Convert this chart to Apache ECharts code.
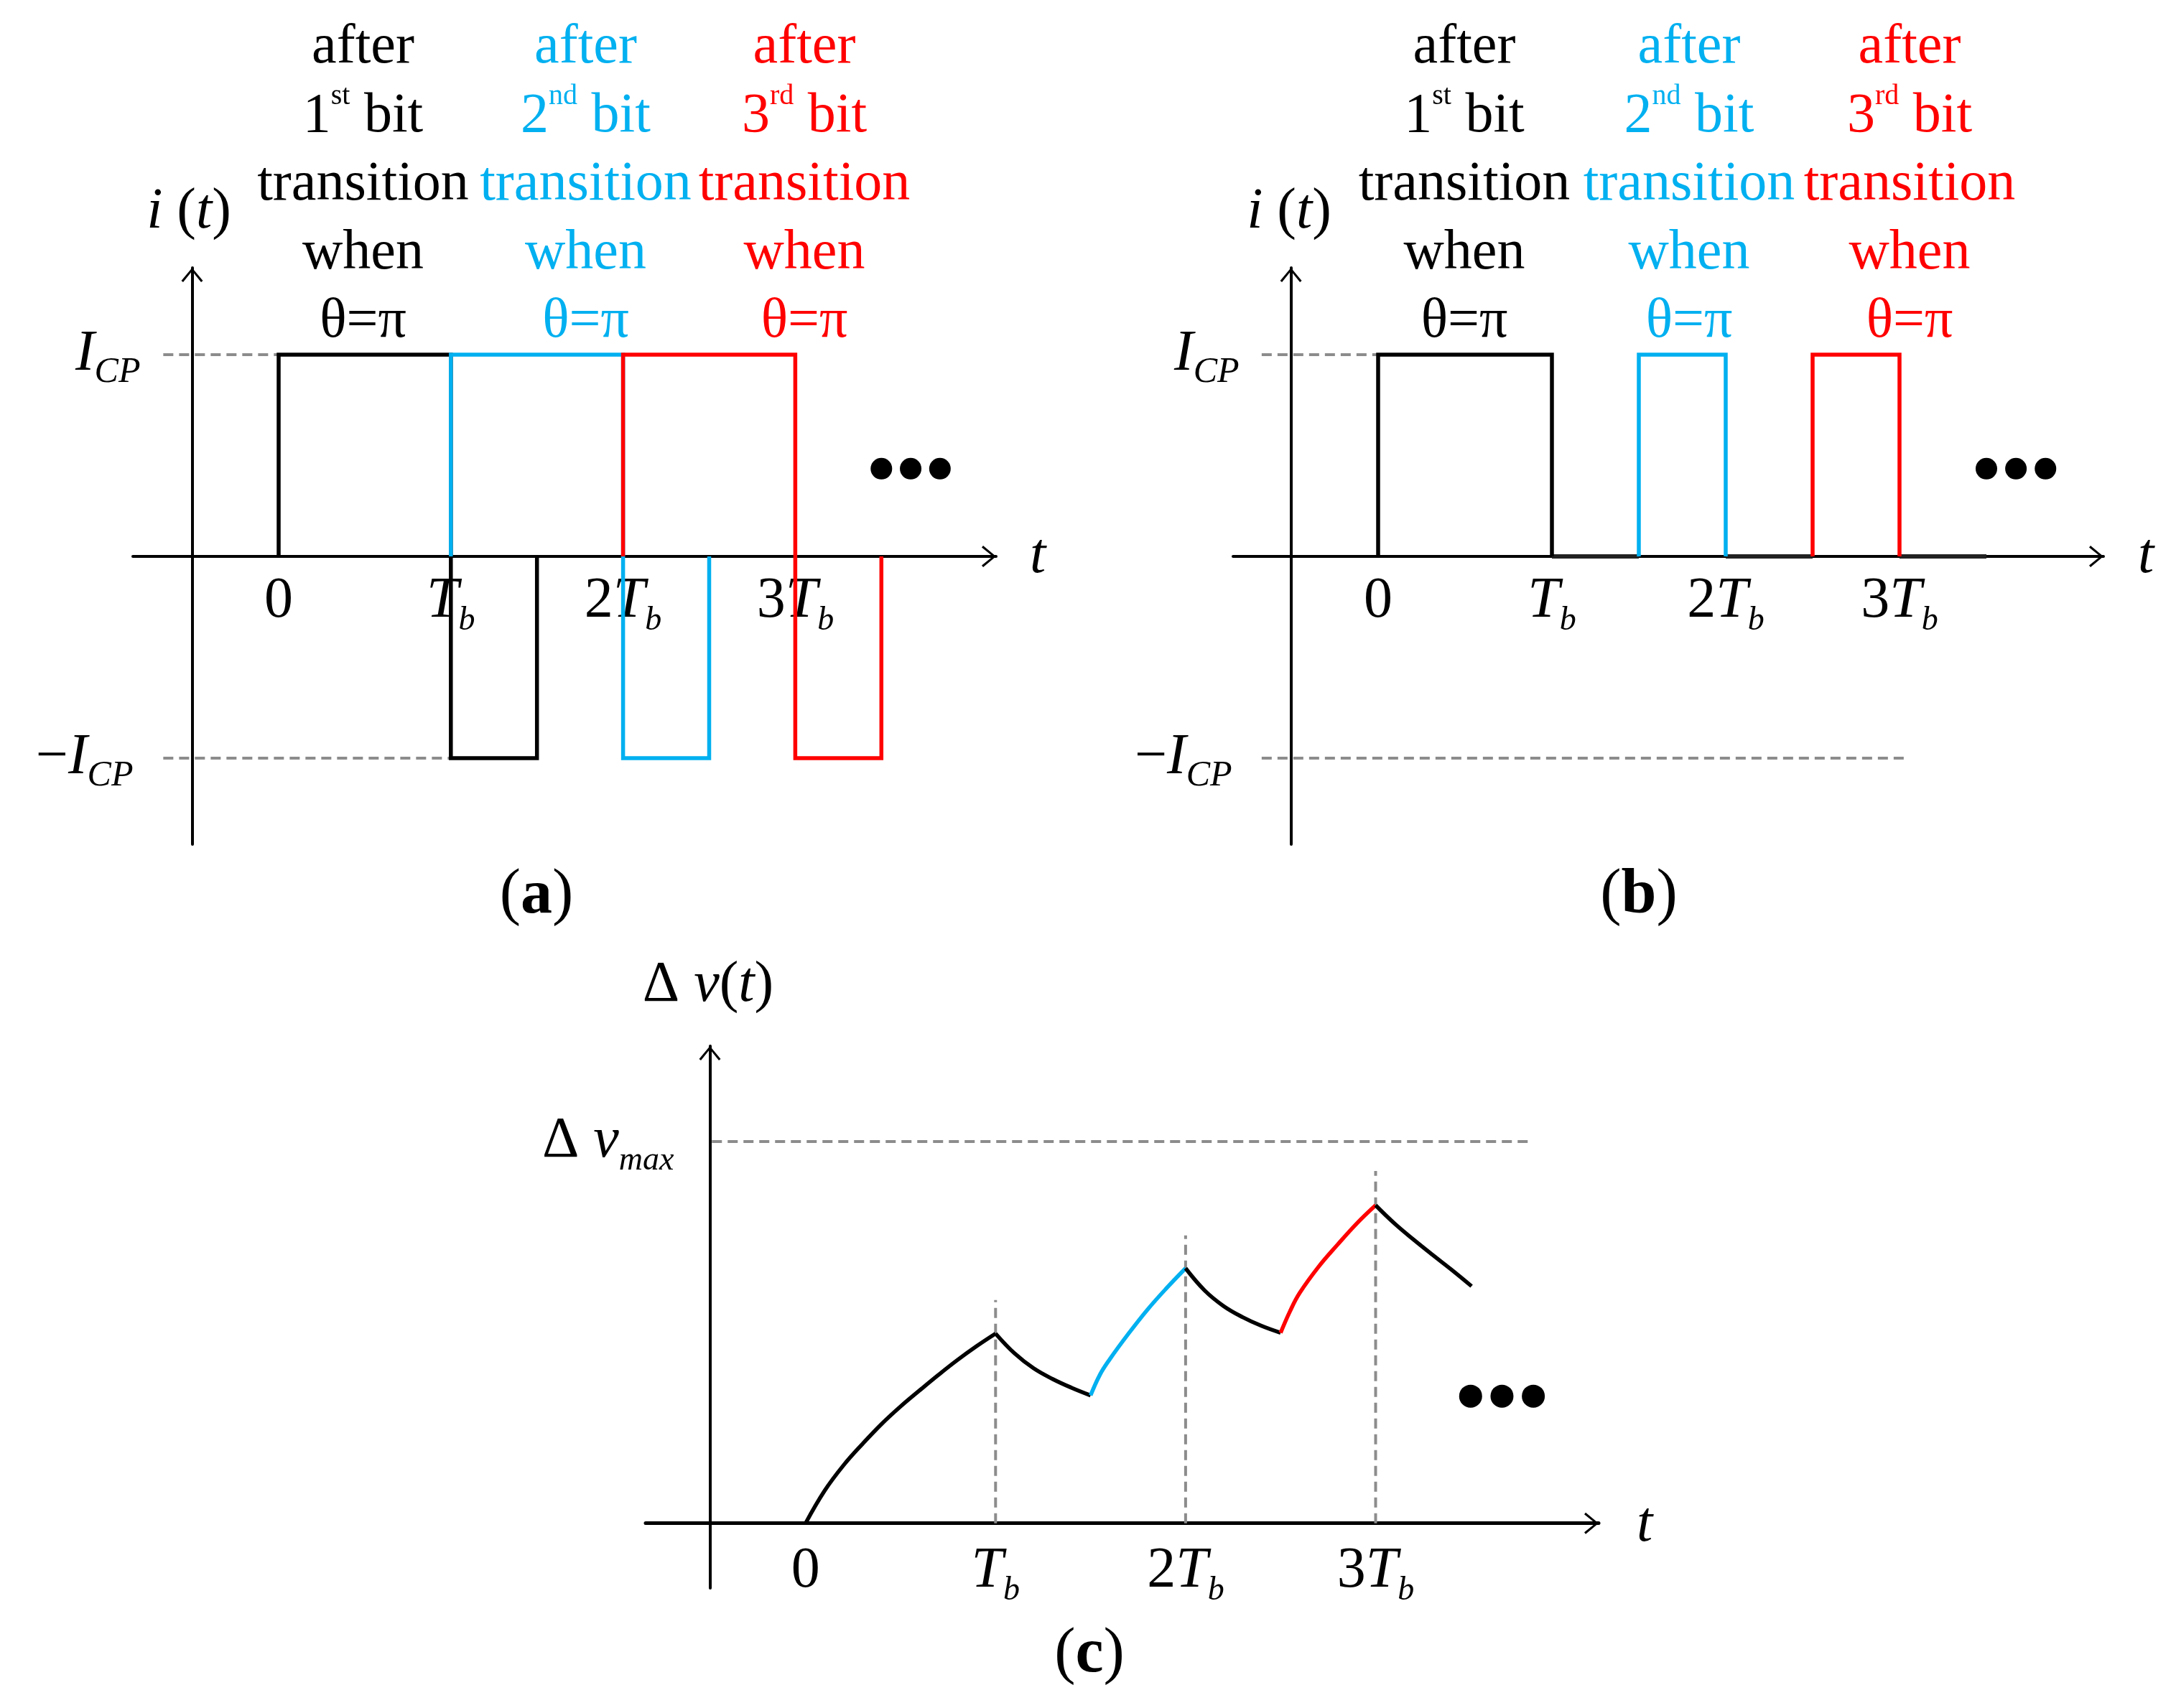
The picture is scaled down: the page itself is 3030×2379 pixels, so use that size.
<!DOCTYPE html>
<html>
<head>
<meta charset="utf-8">
<script src="https://cdn.jsdelivr.net/npm/echarts@6/dist/echarts.min.js"></script>
<style>
html,body{margin:0;padding:0;background:#ffffff;}
#chart{width:3030px;height:2379px;}
</style>
</head>
<body>
<div id="chart"></div>
<script>
// ===================== DATA =====================
// time axis ticks (units of Tb)
const timeTicks = [0, 1, 2, 3];
const timeTickLabels = ['{r|0}', '{i|T}{s|b}', '{r|2}{i|T}{s|b}', '{r|3}{i|T}{s|b}'];
// current levels (units of I_CP)
const currentLevels = [-1, 1];
const currentLevelLabels = ['{r|\u2212}{i|I}{sn|CP}', '{i|I}{s|CP}'];
// voltage level (units of Δv_max)
const voltageLevels = [1];
const voltageLevelLabels = ['{r|\u0394 }{i|v}{s|max}'];

// panel (a): charge-pump current pulses [t, i]
const aBit1 = [[0,0],[0,1],[1,1],[1,-1],[1.5,-1],[1.5,0]];
const aBit2 = [[1,0],[1,1],[2,1],[2,-1],[2.5,-1],[2.5,0]];
const aBit3 = [[2,0],[2,1],[3,1],[3,-1],[3.5,-1],[3.5,0]];
const aGuidePos = [[-0.67,1],[0,1]];
const aGuideNeg = [[-0.67,-1],[1,-1]];

// panel (b)
const bBit1 = [[0,0],[0,1],[1,1],[1,0]];
const bBit2 = [[1.5,0],[1.5,1],[2,1],[2,0]];
const bBit3 = [[2.5,0],[2.5,1],[3,1],[3,0]];
const bIdle1 = [[1,0],[1.5,0]];
const bIdle2 = [[2,0],[2.5,0]];
const bIdle3 = [[3,0],[3.5,0]];
const bGuidePos = [[-0.67,1],[0,1]];
const bGuideNeg = [[-0.67,-1],[3.03,-1]];

// continuation dots
const dotsAB = [[3.50,0.435],[3.67,0.435],[3.84,0.435]];
const dotsC = [[3.50,0.333],[3.665,0.333],[3.83,0.333]];

// panel (c): voltage [t, Δv/Δv_max]
const cRise1 = [[0,0],[0.1,0.085],[0.2,0.152],[0.3,0.208],[0.4,0.260],[0.5,0.306],[0.6,0.348],[0.7,0.389],[0.8,0.428],[0.9,0.464],[1,0.497]];
const cDecay1 = [[1,0.497],[1.1,0.445],[1.2,0.406],[1.3,0.378],[1.4,0.355],[1.5,0.335]];
const cRise2 = [[1.5,0.335],[1.55,0.390],[1.6,0.429],[1.7,0.497],[1.8,0.560],[1.9,0.616],[2,0.668]];
const cDecay2 = [[2,0.668],[2.1,0.610],[2.2,0.569],[2.3,0.540],[2.4,0.517],[2.5,0.499]];
const cRise3 = [[2.5,0.499],[2.55,0.556],[2.6,0.603],[2.7,0.672],[2.8,0.730],[2.9,0.785],[3,0.833]];
const cDecay3 = [[3,0.833],[3.1,0.785],[3.2,0.743],[3.3,0.703],[3.4,0.664],[3.505,0.621]];
const cGuideMax = [[-0.493,1],[3.82,1]];
const cGuideT1 = [[1,0],[1,0.585]];
const cGuideT2 = [[2,0],[2,0.754]];
const cGuideT3 = [[3,0],[3,0.923]];

// annotation texts
const columnTexts = [
  'after\n1{sup|st} bit\ntransition\nwhen\n\u03b8=\u03c0',
  'after\n2{sup|nd} bit\ntransition\nwhen\n\u03b8=\u03c0',
  'after\n3{sup|rd} bit\ntransition\nwhen\n\u03b8=\u03c0'
];

// ===================== STYLE =====================
const FONT = 'Liberation Serif';
const BLACK = '#000000';
const BLUE = '#00B0F0';
const RED = '#FF0000';
const GRAY = '#8c8c8c';
const ARROW = 'path://M0,18L15,0L30,18L27.5,20L15,4.5L2.5,20Z';

function richX(){
  return {
    r:{fontFamily:FONT,fontSize:80,lineHeight:100,color:BLACK},
    i:{fontFamily:FONT,fontSize:80,fontStyle:'italic',lineHeight:100,color:BLACK},
    s:{fontFamily:FONT,fontSize:46,fontStyle:'italic',lineHeight:52,verticalAlign:'bottom',color:BLACK}
  };
}
function richYI(){
  return {
    r:{fontFamily:FONT,fontSize:80,lineHeight:100,color:BLACK},
    i:{fontFamily:FONT,fontSize:80,fontStyle:'italic',lineHeight:100,color:BLACK},
    s:{fontFamily:FONT,fontSize:50,fontStyle:'italic',lineHeight:60,verticalAlign:'bottom',color:BLACK},
    sn:{fontFamily:FONT,fontSize:50,fontStyle:'italic',lineHeight:60,verticalAlign:'bottom',color:BLACK,padding:[0,10,0,0]}
  };
}
function richYV(){
  return {
    r:{fontFamily:FONT,fontSize:80,lineHeight:100,color:BLACK},
    i:{fontFamily:FONT,fontSize:80,fontStyle:'italic',lineHeight:100,color:BLACK},
    s:{fontFamily:FONT,fontSize:46,fontStyle:'italic',lineHeight:53,verticalAlign:'bottom',color:BLACK}
  };
}

function xAxisCfg(grid, min, max, offset, margin, width){
  return {
    gridIndex:grid, type:'value', min:min, max:max, position:'bottom', offset:offset,
    axisLine:{show:true,onZero:false,symbol:['none',ARROW],symbolSize:[30,20],symbolOffset:[0,-10],
      lineStyle:{color:BLACK,width:width}},
    axisTick:{show:false}, splitLine:{show:false},
    axisLabel:{show:true,customValues:timeTicks,margin:margin,
      formatter:function(v){const k=timeTicks.indexOf(v);return k>=0?timeTickLabels[k]:'';},
      rich:richX()}
  };
}
function yAxisCfg(grid, min, max, offset, width, values, labels, rich, margin){
  return {
    gridIndex:grid, type:'value', min:min, max:max, position:'left', offset:offset,
    axisLine:{show:true,onZero:false,symbol:['none',ARROW],symbolSize:[30,20],symbolOffset:[0,-10],
      lineStyle:{color:BLACK,width:width}},
    axisTick:{show:false}, splitLine:{show:false},
    axisLabel:{show:true,customValues:values,margin:margin,
      formatter:function(v){const k=values.indexOf(v);return k>=0?labels[k]:'';},
      rich:rich}
  };
}

function line(data, grid, color, width, opts){
  opts = opts || {};
  return {
    type:'line', xAxisIndex:grid, yAxisIndex:grid, data:data,
    showSymbol:false, symbol:'none', silent:true, animation:false,
    smooth: opts.smooth || false, z: opts.z || 3, clip:false,
    lineStyle:{color:color,width:width,type:opts.dash||'solid',join:'miter',cap:'butt'}
  };
}
function dots(data, grid, size){
  return {type:'scatter', xAxisIndex:grid, yAxisIndex:grid, data:data, symbol:'circle',
    symbolSize:size, itemStyle:{color:BLACK, opacity:1}, silent:true, animation:false, z:4};
}

function txt(x, y, text, opts){
  opts = opts || {};
  return {
    type:'text', x:x, y:y, z:100, silent:true,
    style:{
      text:text, fill:opts.fill||BLACK, fontFamily:FONT, fontSize:opts.fontSize||80,
      fontStyle:opts.fontStyle||'normal', fontWeight:opts.fontWeight||'normal',
      lineHeight:opts.lineHeight||100, align:'center', verticalAlign:opts.va||'middle',
      rich:opts.rich||{}
    }
  };
}
function colText(x, k, color){
  return txt(x, 19, columnTexts[k], {fill:color, fontSize:78, lineHeight:95.5, va:'top',
    rich:{sup:{fill:color,fontFamily:FONT,fontSize:40,lineHeight:60,verticalAlign:'top'}}});
}
const italicRich = {
  i:{fill:BLACK,fontFamily:FONT,fontSize:80,fontStyle:'italic',lineHeight:100},
  r:{fill:BLACK,fontFamily:FONT,fontSize:80,lineHeight:100},
  b:{fill:BLACK,fontFamily:FONT,fontSize:88,fontWeight:'bold',lineHeight:100}
};
const labelRich = {r:{fill:BLACK,fontFamily:FONT,fontSize:88,lineHeight:100}, b:italicRich.b};

const DASH = [14,8];

const option = {
  backgroundColor:'#ffffff',
  animation:false,
  textStyle:{fontFamily:FONT},
  grid:[
    {left:185, top:373, width:1202, height:803, containLabel:false, outerBoundsMode:'none'},
    {left:1717, top:373, width:1212, height:803, containLabel:false, outerBoundsMode:'none'},
    {left:899, top:1457, width:1327, height:755, containLabel:false, outerBoundsMode:'none'}
  ],
  xAxis:[
    xAxisCfg(0, -0.8466, 4.166, -401, 13, 4),
    xAxisCfg(1, -0.8347, 4.1736, -401, 13, 4),
    xAxisCfg(2, -0.8416, 4.1735, -90.3, 17, 5)
  ],
  yAxis:[
    yAxisCfg(0, -1.427, 1.4306, -82.5, 4, currentLevels, currentLevelLabels, richYI(), 72),
    yAxisCfg(1, -1.427, 1.4306, -80.6, 4, currentLevels, currentLevelLabels, richYI(), 72),
    yAxisCfg(2, -0.1698, 1.2501, -89.5, 4, voltageLevels, voltageLevelLabels, richYV(), 50)
  ],
  series:[
    // (a)
    line(aGuidePos, 0, GRAY, 4, {dash:DASH, z:2}),
    line(aGuideNeg, 0, GRAY, 4, {dash:DASH, z:2}),
    line(aBit1, 0, BLACK, 5.5),
    line(aBit2, 0, BLUE, 5.5),
    line(aBit3, 0, RED, 5.5),
    dots(dotsAB, 0, 30),
    // (b)
    line(bGuidePos, 1, GRAY, 4, {dash:DASH, z:2}),
    line(bGuideNeg, 1, GRAY, 4, {dash:DASH, z:2}),
    line(bIdle1, 1, '#222222', 6),
    line(bIdle2, 1, '#222222', 6),
    line(bIdle3, 1, '#222222', 6),
    line(bBit1, 1, BLACK, 5.5),
    line(bBit2, 1, BLUE, 5.5),
    line(bBit3, 1, RED, 5.5),
    dots(dotsAB, 1, 30),
    // (c)
    line(cGuideMax, 2, GRAY, 4, {dash:DASH, z:2}),
    line(cGuideT1, 2, GRAY, 4, {dash:DASH, z:2}),
    line(cGuideT2, 2, GRAY, 4, {dash:DASH, z:2}),
    line(cGuideT3, 2, GRAY, 4, {dash:DASH, z:2}),
    line(cRise1, 2, BLACK, 5.5, {smooth:0.4}),
    line(cDecay1, 2, BLACK, 5.5, {smooth:0.4}),
    line(cRise2, 2, BLUE, 5.5, {smooth:0.4}),
    line(cDecay2, 2, BLACK, 5.5, {smooth:0.4}),
    line(cRise3, 2, RED, 5.5, {smooth:0.4}),
    line(cDecay3, 2, BLACK, 5.5, {smooth:0.4}),
    dots(dotsC, 2, 32)
  ],
  graphic:{elements:[
    colText(505.5, 0, BLACK), colText(815.5, 1, BLUE), colText(1120, 2, RED),
    colText(2039, 0, BLACK), colText(2352, 1, BLUE), colText(2659, 2, RED),
    txt(263, 296, '{i|i}{r| (}{i|t}{r|)}', {rich:italicRich}),
    txt(1795, 296, '{i|i}{r| (}{i|t}{r|)}', {rich:italicRich}),
    txt(1445, 776, '{i|t}', {rich:italicRich}),
    txt(2988, 776, '{i|t}', {rich:italicRich}),
    txt(2290, 2125, '{i|t}', {rich:italicRich}),
    txt(986, 1373, '{r|\u0394 }{i|v}{r|(}{i|t}{r|)}', {rich:italicRich}),
    txt(747, 1248, '{r|(}{b|a}{r|)}', {fontSize:88, rich:labelRich}),
    txt(2282, 1248, '{r|(}{b|b}{r|)}', {fontSize:88, rich:labelRich}),
    txt(1517, 2305, '{r|(}{b|c}{r|)}', {fontSize:88, rich:labelRich})
  ]}
};

const chart = echarts.init(document.getElementById('chart'), null, {renderer:'canvas', width:3030, height:2379});
chart.setOption(option);
</script>
</body>
</html>
